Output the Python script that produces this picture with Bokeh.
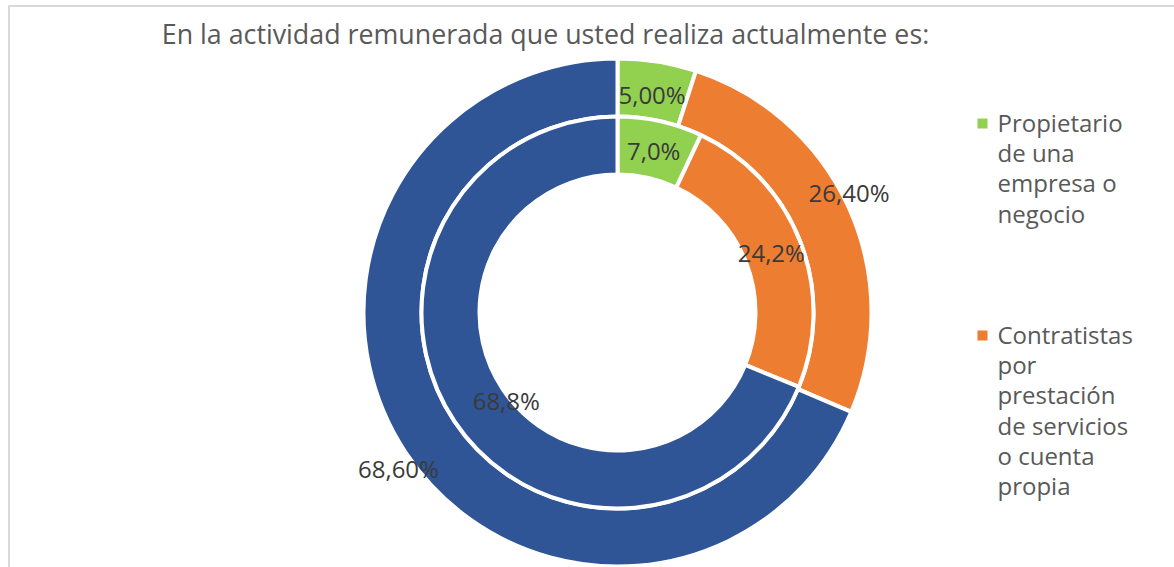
import numpy as np
from bokeh.plotting import figure
from bokeh.models import Range1d, ColumnDataSource
from bokeh.core.properties import value
from bokeh.embed import file_html
from bokeh.resources import INLINE

# ---------------- data ----------------
title_text = "En la actividad remunerada que usted realiza actualmente es:"
categories = ["Propietario de una empresa o negocio",
              "Contratistas por prestación de servicios o cuenta propia",
              "Otra actividad"]
legend_lines = [["Propietario", "de una", "empresa o", "negocio"],
                ["Contratistas", "por", "prestación", "de servicios", "o cuenta", "propia"]]
outer_values = [5.00, 26.40, 68.60]
inner_values = [7.0, 24.2, 68.8]
outer_labels = ["5,00%", "26,40%", "68,60%"]
inner_labels = ["7,0%", "24,2%", "68,8%"]

# ---------------- style ----------------
colors = ["#92D050", "#ED7D31", "#2F5597"]
W, H = 1174, 567
CX, CY = 617, H - 312
FONT = value("Open Sans")

p = figure(width=W, height=H, x_range=Range1d(0, W), y_range=Range1d(0, H),
           output_backend="svg", toolbar_location=None, min_border=0,
           x_axis_type=None, y_axis_type=None)
p.grid.visible = False
p.outline_line_color = None
p.background_fill_color = "white"
p.border_fill_color = "white"

# frame border (top and left lines)
p.segment(x0=[8.5, 8], y0=[0, H - 5.5], x1=[8.5, W], y1=[H - 5.5, H - 5.5],
          line_color="#d9d9d9", line_width=2)


def ring(values, r_in, r_out, labels, lab_r, lab_da):
    frac = np.array(values, dtype=float) / sum(values)
    cum = np.concatenate([[0.0], np.cumsum(frac)]) * 2 * np.pi
    a0, a1 = cum[:-1], cum[1:]
    src = ColumnDataSource(dict(start=np.pi / 2 - a1, end=np.pi / 2 - a0, color=colors))
    p.annular_wedge(x=CX, y=CY, inner_radius=r_in, outer_radius=r_out,
                    inner_radius_units="screen", outer_radius_units="screen",
                    start_angle="start", end_angle="end", fill_color="color",
                    line_color="white", line_width=4, source=src)
    mid = (a0 + a1) / 2 + np.radians(lab_da)
    lx = CX + np.array(lab_r) * np.sin(mid)
    ly = CY + np.array(lab_r) * np.cos(mid)
    p.text(x=lx, y=ly, text=labels, text_font=FONT, text_font_size="24px",
           text_color="#3a3a3a", text_align="center", text_baseline="middle")


ring(outer_values, 196, 254, outer_labels, [221, 261, 269], [0, -3, -2])
ring(inner_values, 138, 196, inner_labels, [166, 165, 142], [0, 0, -4.6])

# title
p.text(x=[545], y=[H - 33], text=[title_text], text_font=FONT, text_font_size="26.8px",
       text_color="#595959", text_align="center", text_baseline="middle")

# legend
leg_y = [H - 122, H - 334]
for i, lines in enumerate(legend_lines):
    p.scatter(x=[982], y=[leg_y[i] - 1], marker="square", size=10,
              fill_color=colors[i], line_color=None)
    ys = [leg_y[i] - 30.2 * k for k in range(len(lines))]
    p.text(x=[997] * len(lines), y=ys, text=lines, text_font=FONT, text_font_size="24px",
           text_color="#595959", text_align="left", text_baseline="middle")

open("out.html", "w").write(file_html(p, INLINE))
